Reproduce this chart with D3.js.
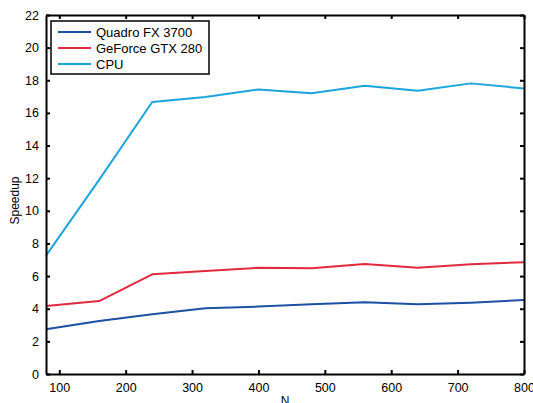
<!DOCTYPE html>
<html>
<head>
<meta charset="utf-8">
<script src="https://cdn.jsdelivr.net/npm/d3@7"></script>
<style>
  body { margin: 0; background: #fff; }
  text { font-family: "Liberation Sans", Arial, sans-serif; }
</style>
</head>
<body>
<div id="chart"></div>
<script>
const N = [80, 160, 240, 320, 400, 480, 560, 640, 720, 800];
const QUADRO = [2.74, 3.25, 3.66, 4.03, 4.13, 4.27, 4.39, 4.27, 4.37, 4.54];
const GEFORCE = [4.17, 4.47, 6.11, 6.31, 6.51, 6.48, 6.74, 6.51, 6.72, 6.85];
const CPU = [7.25, 11.9, 16.67, 16.97, 17.44, 17.2, 17.67, 17.36, 17.81, 17.5];
const SERIES = ["Quadro FX 3700", "GeForce GTX 280", "CPU"];
const X_TICKS = [100, 200, 300, 400, 500, 600, 700, 800];
const Y_TICKS = [0, 2, 4, 6, 8, 10, 12, 14, 16, 18, 20, 22];

var colors = ["#1d4fa3", "#e0293d", "#1ca4dc"];
var allSeries = [QUADRO, GEFORCE, CPU];

var margin = { top: 15, right: 9, bottom: 29, left: 46 },
  width = 533 - margin.left - margin.right,
  height = 403 - margin.top - margin.bottom;

var svg = d3.select("#chart")
  .append("svg")
  .attr("width", 533)
  .attr("height", 403)
  .append("g")
  .attr("transform", "translate(" + margin.left + "," + margin.top + ")");

var x = d3.scaleLinear().domain([80, 800]).range([0, width]);
var y = d3.scaleLinear().domain([0, 22]).range([height, 0]);

// lines
var line = d3.line()
  .x(function (d, i) { return x(N[i]); })
  .y(function (d) { return y(d); });

allSeries.forEach(function (s, i) {
  svg.append("path")
    .datum(s)
    .attr("fill", "none")
    .attr("stroke", colors[i])
    .attr("stroke-width", 2)
    .attr("stroke-linejoin", "round")
    .attr("d", line);
});

// axes, box with inward ticks on all four sides
var bottomAxis = svg.append("g")
  .attr("transform", "translate(0," + height + ")")
  .call(d3.axisBottom(x).tickValues(X_TICKS).tickSizeInner(-4).tickSizeOuter(0).tickPadding(9));
var topAxis = svg.append("g")
  .call(d3.axisTop(x).tickValues(X_TICKS).tickSizeInner(-4).tickSizeOuter(0).tickFormat(""));
var leftAxis = svg.append("g")
  .call(d3.axisLeft(y).tickValues(Y_TICKS).tickSizeInner(-4).tickSizeOuter(0).tickPadding(7));
var rightAxis = svg.append("g")
  .attr("transform", "translate(" + width + ",0)")
  .call(d3.axisRight(y).tickValues(Y_TICKS).tickSizeInner(-4).tickSizeOuter(0).tickFormat(""));

[bottomAxis, topAxis, leftAxis, rightAxis].forEach(function (a) {
  a.select(".domain").attr("stroke", "#000").attr("stroke-width", 2);
  a.selectAll(".tick line").attr("stroke", "#000").attr("stroke-width", 2);
  a.selectAll("text").attr("fill", "#000").style("font-size", "12.5px");
});

// axis labels
svg.append("text")
  .attr("x", x(440))
  .attr("y", height + 31)
  .attr("text-anchor", "middle")
  .style("font-size", "12px")
  .text("N");

svg.append("text")
  .attr("transform", "translate(-27," + (height / 2 + 6) + ") rotate(-90)")
  .attr("text-anchor", "middle")
  .style("font-size", "12px")
  .text("Speedup");

// legend
var legend = svg.append("g").attr("transform", "translate(5,6)");
legend.append("rect")
  .attr("width", 158)
  .attr("height", 53)
  .attr("fill", "#fff")
  .attr("stroke", "#000")
  .attr("stroke-width", 1.5);

SERIES.forEach(function (name, i) {
  var row = legend.append("g").attr("transform", "translate(0," + (11 + i * 16) + ")");
  row.append("line")
    .attr("x1", 7).attr("x2", 40)
    .attr("stroke", colors[i])
    .attr("stroke-width", 2);
  row.append("text")
    .attr("x", 45)
    .attr("dy", "0.35em")
    .style("font-size", "13px")
    .text(name);
});
</script>
</body>
</html>
